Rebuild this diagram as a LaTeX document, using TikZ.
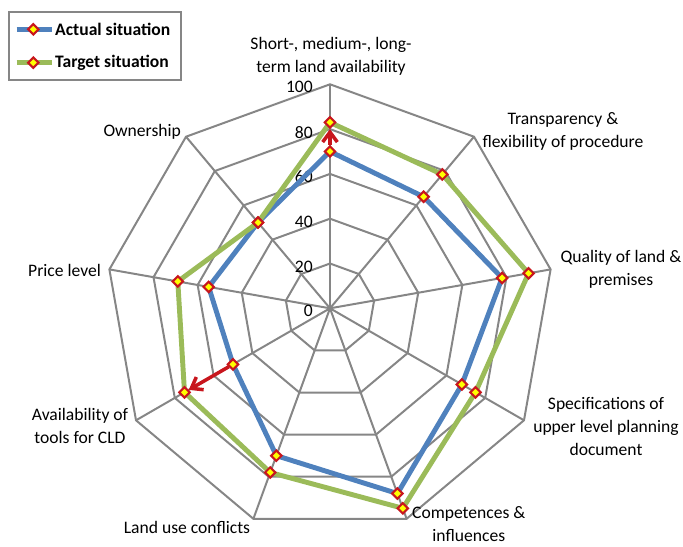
\documentclass[tikz,border=0pt]{standalone}
\usepackage{fontspec}
\setmainfont{Carlito}
\usetikzlibrary{shapes.geometric,arrows.meta}
\definecolor{webgray}{HTML}{868686}
\definecolor{actualblue}{HTML}{4F81BD}
\definecolor{targetgreen}{HTML}{9BBB59}
\definecolor{markred}{HTML}{C8161D}
\definecolor{markyellow}{HTML}{FFFF00}
\begin{document}
\begin{tikzpicture}[x=0.03cm,y=0.03cm,
  font=\fontsize{15}{19.5}\selectfont,
  webline/.style={webgray,line width=1.7pt},
  actual/.style={actualblue,line width=4.2pt,line join=round},
  target/.style={targetgreen,line width=4.2pt,line join=round},
  datamark/.style={diamond,draw=markred,fill=markyellow,line width=1.8pt,inner sep=0pt,minimum size=0.34cm},
  axislabel/.style={align=center,inner sep=0pt},
  ticklabel/.style={anchor=east,inner sep=0pt},
  progress/.style={markred,line width=3pt,-{Straight Barb[length=3mm,width=4.4mm]}}]
\useasboundingbox (-330,-237.7) rectangle (353,308.3);
\begin{scope}[scale=2.24]
% web
\foreach \r in {20,40,...,100}
  \draw[webline] (90:\r) -- (50:\r) -- (10:\r) -- (-30:\r) -- (-70:\r) -- (-110:\r) -- (-150:\r) -- (170:\r) -- (130:\r) -- cycle;
\foreach \a in {90,50,...,-230}
  \draw[webline] (0,0) -- (\a:100);
% actual situation
\coordinate (a1) at (90:70);
\coordinate (a2) at (50:65);
\coordinate (a3) at (10:78);
\coordinate (a4) at (-30:68);
\coordinate (a5) at (-70:88);
\coordinate (a6) at (-110:70);
\coordinate (a7) at (-150:50);
\coordinate (a8) at (170:55);
\coordinate (a9) at (130:50);
% target situation
\coordinate (t1) at (90:83);
\coordinate (t2) at (50:78);
\coordinate (t3) at (10:90);
\coordinate (t4) at (-30:75);
\coordinate (t5) at (-70:95);
\coordinate (t6) at (-110:78);
\coordinate (t7) at (-150:75);
\coordinate (t8) at (170:69);
\coordinate (t9) at (130:50);
\end{scope}

% scale
\foreach \v in {0,20,...,100}
  \node[ticklabel] (tick\v) at (-17,{2.24*\v-3}) {\v};

\draw[actual] (a1) -- (a2) -- (a3) -- (a4) -- (a5) -- (a6) -- (a7) -- (a8) -- (a9) -- cycle;
\draw[target] (t1) -- (t2) -- (t3) -- (t4) -- (t5) -- (t6) -- (t7) -- (t8) -- (t9) -- cycle;
\foreach \i in {1,...,9} {
  \node[datamark] (ma\i) at (a\i) {};
  \node[datamark] (mt\i) at (t\i) {};
}
\draw[progress] (ma1) -- (mt1);
\draw[progress] (ma7) -- (mt7);

% axis labels
\node[axislabel] (avail) at (1,251.8) {Short-, medium-, long-\\term land availability};
\node[axislabel] (transp) at (233,176.6) {Transparency \&\\flexibility of procedure};
\node[axislabel] (quality) at (291,39) {Quality of land \&\\premises};
\node[axislabel] (spec) at (276,-118.4) {Specifications of\\upper level planning\\document};
\node[axislabel] (compet) at (138.8,-215.5) {Competences \&\\influences};
\node[axislabel] (landuse) at (-143,-219) {Land use conflicts};
\node[axislabel] (tools) at (-250,-117.9) {Availability of\\tools for CLD};
\node[axislabel] (price) at (-265.5,38.3) {Price level};
\node[axislabel] (owner) at (-187.8,176.6) {Ownership};

% legend
\draw[webline,line width=1.5pt] (-320.7,228.3) rectangle (-149.3,296);
\draw[actual] (-313.3,279) -- (-278.3,279);
\node[datamark] (legA) at (-296.7,279) {};
\node[anchor=west,inner sep=0pt,font=\fontsize{15}{19.5}\selectfont\bfseries] (legAtext) at (-275,279) {Actual situation};
\draw[target] (-313.3,245.6) -- (-278.3,245.6);
\node[datamark] (legT) at (-296.7,245.6) {};
\node[anchor=west,inner sep=0pt,font=\fontsize{15}{19.5}\selectfont\bfseries] (legTtext) at (-275,245.6) {Target situation};
\end{tikzpicture}
\end{document}
